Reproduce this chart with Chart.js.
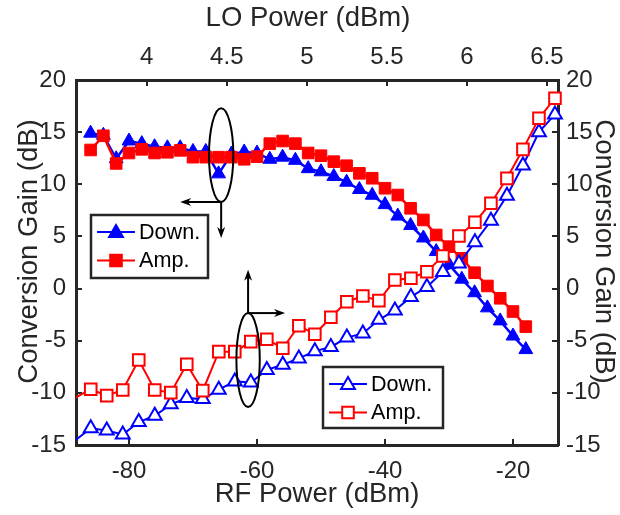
<!DOCTYPE html>
<html><head><meta charset="utf-8">
<script src="https://cdn.jsdelivr.net/npm/chart.js@4.4.1/dist/chart.umd.min.js"></script>
<style>html,body{margin:0;padding:0;background:#fff;}canvas{display:block;}</style>
</head><body>
<canvas id="c" width="620" height="515"></canvas>
<script>
// ---------- data ----------
const rfPower = [-86,-84,-82,-80,-78,-76,-74,-72,-70,-68,-66,-64,-62,-60,-58,-56,-54,-52,-50,-48,-46,-44,-42,-40,-38,-36,-34,-32,-30,-28,-26,-24,-22,-20,-18];
const downRF = [14.9,14.7,12.45,14.15,13.9,13.6,13.5,13.5,13.15,13.15,11.0,12.9,13.1,13.0,12.4,12.6,12.3,11.5,11.2,10.75,10.2,9.5,8.95,8.05,6.95,6.05,4.85,3.55,2.3,0.9,-0.4,-1.85,-3.1,-4.55,-5.85];
const ampRF = [13.29,14.65,12.0,13.0,13.35,13.0,13.07,13.25,12.6,12.6,12.6,12.6,12.4,12.65,13.9,14.15,13.9,13.0,12.74,12.17,11.78,11.05,10.58,9.62,8.97,7.7,6.58,5.14,4.02,2.9,1.52,0.25,-0.93,-2.2,-3.65];

const loPower = [3.55,3.65,3.75,3.85,3.95,4.05,4.15,4.25,4.35,4.45,4.55,4.65,4.75,4.85,4.95,5.05,5.15,5.25,5.35,5.45,5.55,5.65,5.75,5.85,5.95,6.05,6.15,6.25,6.35,6.45,6.55];
const downLO = [-14.6,-13.4,-13.6,-14.0,-12.8,-12.2,-11.1,-10.5,-10.6,-9.7,-8.9,-9.0,-7.8,-7.3,-6.7,-6.0,-5.6,-4.7,-4.3,-3.0,-2.1,-0.8,0.15,1.6,2.4,4.45,6.5,8.9,11.8,15.0,16.7];
const ampLO = [-10.5,-9.65,-10.27,-9.72,-6.85,-9.72,-9.98,-7.26,-9.79,-6.05,-6.05,-5.09,-4.86,-5.72,-3.56,-4.38,-2.75,-1.26,-0.71,-1.16,0.82,0.99,1.62,3.13,5.04,6.36,8.18,10.57,13.35,16.33,18.25];

const gainTicks = [-15,-10,-5,0,5,10,15,20];
const rfTicks = [-80,-60,-40,-20];
const loTicks = [4,4.5,5,5.5,6,6.5];

const RF_MIN = -88.28, RF_MAX = -12.97;
const LO_MIN = 3.558, LO_MAX = 6.569;
const G_MIN = -15, G_MAX = 20;

const titles = {bottom: 'RF Power (dBm)', top: 'LO Power (dBm)', left: 'Conversion Gain (dB)', right: 'Conversion Gain (dB)'};

// annotation (ellipse + arrows) in data units
const ellA = {cx:-65.6, cy:12.8, rx:1.9, ry:4.5};
const arrA = [{x1:-65.6,y1:8.3,x2:-72.0,y2:8.3},{x1:-65.6,y1:8.3,x2:-65.6,y2:4.85}];
const ellB = {cx:4.633, cy:-6.85, rx:0.073, ry:4.5};
const arrB = [{x1:4.633,y1:-2.35,x2:4.633,y2:1.8},{x1:4.633,y1:-2.35,x2:4.864,y2:-2.35}];

// ---------- styles ----------
const FONT = "'Liberation Sans', Arial, Helvetica, sans-serif";
const AX = '#262626';
const BLUE = '#0000ff', RED = '#ff0000';
const TRI_R = 8, SQ_R = 8.2;

const pts = (xs, ys) => xs.map((x, i) => ({x, y: ys[i]}));
const hideOut = r => c => (c.raw && c.raw.x < LO_MIN) ? 0 : r;

function tri(ctx, x, y, r) {
  ctx.beginPath();
  let a = 0;
  ctx.moveTo(x + Math.sin(a) * r, y - Math.cos(a) * r);
  a += 2 * Math.PI / 3; ctx.lineTo(x + Math.sin(a) * r, y - Math.cos(a) * r);
  a += 2 * Math.PI / 3; ctx.lineTo(x + Math.sin(a) * r, y - Math.cos(a) * r);
  ctx.closePath();
}
function sq(ctx, x, y, r) {
  const s = Math.SQRT1_2 * r;
  ctx.beginPath(); ctx.rect(x - s, y - s, 2 * s, 2 * s);
}
function arrow(ctx, x1, y1, x2, y2) {
  const ang = Math.atan2(y2 - y1, x2 - x1), L = 11, W = 4;
  ctx.beginPath(); ctx.moveTo(x1, y1);
  ctx.lineTo(x2 - Math.cos(ang) * L * 0.6, y2 - Math.sin(ang) * L * 0.6); ctx.stroke();
  ctx.beginPath();
  ctx.moveTo(x2, y2);
  ctx.lineTo(x2 - Math.cos(ang) * L + Math.sin(ang) * W, y2 - Math.sin(ang) * L - Math.cos(ang) * W);
  ctx.lineTo(x2 - Math.cos(ang) * L * 0.7, y2 - Math.sin(ang) * L * 0.7);
  ctx.lineTo(x2 - Math.cos(ang) * L - Math.sin(ang) * W, y2 - Math.sin(ang) * L + Math.cos(ang) * W);
  ctx.closePath(); ctx.fill();
}

const inwardTicks = {
  id: 'inwardTicks',
  beforeDatasetsDraw(chart) {
    const {ctx, chartArea: a, scales} = chart;
    const L = 6;
    ctx.save(); ctx.strokeStyle = AX; ctx.lineWidth = 2;
    for (const id of ['x', 'x2', 'y', 'y2']) {
      const s = scales[id];
      for (const t of s.ticks) {
        const p = Math.round(s.getPixelForValue(t.value));
        ctx.beginPath();
        if (id === 'x') { ctx.moveTo(p, a.bottom); ctx.lineTo(p, a.bottom - L); }
        else if (id === 'x2') { ctx.moveTo(p, a.top); ctx.lineTo(p, a.top + L); }
        else if (id === 'y') { ctx.moveTo(a.left, p); ctx.lineTo(a.left + L, p); }
        else { ctx.moveTo(a.right, p); ctx.lineTo(a.right - L, p); }
        ctx.stroke();
      }
    }
    ctx.restore();
  }
};

const axisTitles = {
  id: 'axisTitles',
  afterDraw(chart) {
    const {ctx, chartArea: a, width, height} = chart;
    ctx.save();
    ctx.fillStyle = AX; ctx.font = '27.5px ' + FONT;
    ctx.textAlign = 'center'; ctx.textBaseline = 'middle';
    const mid = (a.left + a.right) / 2;
    ctx.fillText(titles.bottom, mid, height - 21);
    ctx.fillText(titles.top, mid - 9, 18);
    const vmid = (a.top + a.bottom) / 2 - 11;
    ctx.save(); ctx.translate(29, vmid); ctx.rotate(-Math.PI / 2); ctx.fillText(titles.left, 0, 0); ctx.restore();
    ctx.save(); ctx.translate(width - 16, vmid); ctx.rotate(Math.PI / 2); ctx.fillText(titles.right, 0, 0); ctx.restore();
    ctx.restore();
  }
};

const overlays = {
  id: 'overlays',
  afterDatasetsDraw(chart) {
    const {ctx, chartArea: a, scales: {x, y, x2, y2}} = chart;
    ctx.save();
    ctx.strokeStyle = '#000'; ctx.fillStyle = '#000'; ctx.lineWidth = 2;
    ctx.beginPath();
    ctx.ellipse(x.getPixelForValue(ellA.cx), y.getPixelForValue(ellA.cy),
      Math.abs(x.getPixelForValue(ellA.cx + ellA.rx) - x.getPixelForValue(ellA.cx)),
      Math.abs(y.getPixelForValue(ellA.cy + ellA.ry) - y.getPixelForValue(ellA.cy)), 0, 0, 2 * Math.PI);
    ctx.stroke();
    for (const r of arrA) arrow(ctx, x.getPixelForValue(r.x1), y.getPixelForValue(r.y1), x.getPixelForValue(r.x2), y.getPixelForValue(r.y2));
    ctx.beginPath();
    ctx.ellipse(x2.getPixelForValue(ellB.cx), y2.getPixelForValue(ellB.cy),
      Math.abs(x2.getPixelForValue(ellB.cx + ellB.rx) - x2.getPixelForValue(ellB.cx)),
      Math.abs(y2.getPixelForValue(ellB.cy + ellB.ry) - y2.getPixelForValue(ellB.cy)), 0, 0, 2 * Math.PI);
    ctx.stroke();
    for (const r of arrB) arrow(ctx, x2.getPixelForValue(r.x1), y2.getPixelForValue(r.y1), x2.getPixelForValue(r.x2), y2.getPixelForValue(r.y2));

    const drawLegend = (bx, by, bw, bh, rows, filled) => {
      ctx.fillStyle = '#fff'; ctx.fillRect(bx, by, bw, bh);
      ctx.strokeStyle = AX; ctx.lineWidth = 2.5; ctx.strokeRect(bx, by, bw, bh);
      rows.forEach((row, i) => {
        const ry = by + 17 + i * 28.5;
        const lx1 = bx + 6, lx2 = bx + 44, mx = (lx1 + lx2) / 2;
        ctx.strokeStyle = row.color; ctx.lineWidth = 2;
        ctx.beginPath(); ctx.moveTo(lx1, ry); ctx.lineTo(lx2, ry); ctx.stroke();
        if (row.shape === 'tri') tri(ctx, mx, ry + 1, TRI_R); else sq(ctx, mx, ry, SQ_R);
        ctx.fillStyle = filled ? row.color : '#fff'; ctx.fill(); ctx.stroke();
        ctx.fillStyle = '#000'; ctx.font = '21.6px ' + FONT;
        ctx.textAlign = 'left'; ctx.textBaseline = 'middle';
        ctx.fillText(row.label, bx + 48, ry + 1);
      });
    };
    drawLegend(a.left + 15, a.top + 135, 117, 63, [{label:'Down.', color:BLUE, shape:'tri'}, {label:'Amp.', color:RED, shape:'sq'}], true);
    drawLegend(a.left + 247, a.top + 287, 120, 61, [{label:'Down.', color:BLUE, shape:'tri'}, {label:'Amp.', color:RED, shape:'sq'}], false);
    ctx.restore();
  }
};

const tickFont = {family: FONT, size: 24};
const fmt = v => String(v);
const setTicks = arr => s => { s.ticks = arr.map(v => ({value: v})); };
const axisCommon = {
  grid: {display: false, drawTicks: false},
  border: {display: true, color: AX, width: 3},
  title: {display: false}
};

new Chart(document.getElementById('c'), {
  type: 'line',
  data: {
    datasets: [
      {label: 'Amp.', data: pts(loPower, ampLO), xAxisID: 'x2', yAxisID: 'y2',
       borderColor: RED, borderWidth: 2, pointStyle: 'rect', pointRadius: hideOut(SQ_R),
       pointBorderColor: RED, pointBackgroundColor: '#fff', pointBorderWidth: 2,
       clip: {left: 0, top: 20, right: 20, bottom: 20}},
      {label: 'Down.', data: pts(loPower, downLO), xAxisID: 'x2', yAxisID: 'y2',
       borderColor: BLUE, borderWidth: 2, pointStyle: 'triangle', pointRadius: hideOut(TRI_R),
       pointBorderColor: BLUE, pointBackgroundColor: '#fff', pointBorderWidth: 2,
       clip: {left: 0, top: 20, right: 20, bottom: 20}},
      {label: 'Amp.', data: pts(rfPower, ampRF), xAxisID: 'x', yAxisID: 'y',
       borderColor: RED, borderWidth: 2.5, pointStyle: 'rect', pointRadius: SQ_R,
       pointBorderColor: RED, pointBackgroundColor: RED, pointBorderWidth: 1},
      {label: 'Down.', data: pts(rfPower, downRF), xAxisID: 'x', yAxisID: 'y',
       borderColor: BLUE, borderWidth: 2.5, pointStyle: 'triangle', pointRadius: TRI_R,
       pointBorderColor: BLUE, pointBackgroundColor: BLUE, pointBorderWidth: 1}
    ]
  },
  options: {
    responsive: false, animation: false, devicePixelRatio: 1, events: [],
    layout: {padding: 0},
    plugins: {legend: {display: false}, tooltip: {enabled: false}},
    scales: {
      x: {...axisCommon, type: 'linear', position: 'bottom', min: RF_MIN, max: RF_MAX,
          afterBuildTicks: setTicks(rfTicks), afterFit: s => { s.height = 70; },
          ticks: {font: tickFont, color: AX, padding: 12, callback: fmt, maxRotation: 0, autoSkip: false}},
      x2: {...axisCommon, type: 'linear', position: 'top', min: LO_MIN, max: LO_MAX,
          afterBuildTicks: setTicks(loTicks), afterFit: s => { s.height = 80; },
          ticks: {font: tickFont, color: AX, padding: 8, callback: fmt, maxRotation: 0, autoSkip: false}},
      y: {...axisCommon, type: 'linear', position: 'left', min: G_MIN, max: G_MAX,
          afterBuildTicks: setTicks(gainTicks), afterFit: s => { s.width = 76; },
          ticks: {font: tickFont, color: AX, padding: 10, callback: fmt, autoSkip: false}},
      y2: {...axisCommon, type: 'linear', position: 'right', min: G_MIN, max: G_MAX,
          afterBuildTicks: setTicks(gainTicks), afterFit: s => { s.width = 62; },
          ticks: {font: tickFont, color: AX, padding: 8, callback: fmt, autoSkip: false}}
    }
  },
  plugins: [inwardTicks, overlays, axisTitles]
});
</script>
</body></html>
